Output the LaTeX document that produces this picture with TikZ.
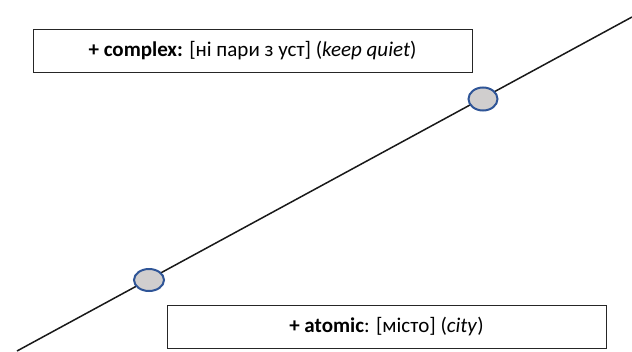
\documentclass[tikz,border=0pt]{standalone}
\usepackage{fontspec}
\setmainfont{Carlito}
\usetikzlibrary{shapes.geometric}
\begin{document}
\begin{tikzpicture}[x=1pt,y=-1pt,
  labelbox/.style={draw=black!85, line width=1pt, inner sep=0pt, font=\fontsize{21}{25}\selectfont},
  dot/.style={ellipse, draw={rgb,255:red,47;green,85;blue,151}, line width=2pt, fill={rgb,255:red,208;green,206;blue,206}, inner sep=0pt}]
\useasboundingbox (0,0) rectangle (632,351);
\coordinate (s) at (17,351);
\coordinate (e) at (632,17);
\draw[line width=1.5pt, black!90] (s) -- (e);
\node[dot, minimum width=29pt, minimum height=23pt] (d1) at (483,99) {};
\node[dot, minimum width=30pt, minimum height=22pt] (d2) at (149,280) {};
\node[labelbox, minimum width=439pt, minimum height=43pt] (top) at (252.5,50.5) {\textbf{+ complex:} [ні пари з уст] (\textit{keep quiet})};
\node[labelbox, minimum width=439pt, minimum height=43pt] (bot) at (386.5,326.5) {\textbf{+ atomic}: [місто] (\textit{city})};
\end{tikzpicture}
\end{document}
